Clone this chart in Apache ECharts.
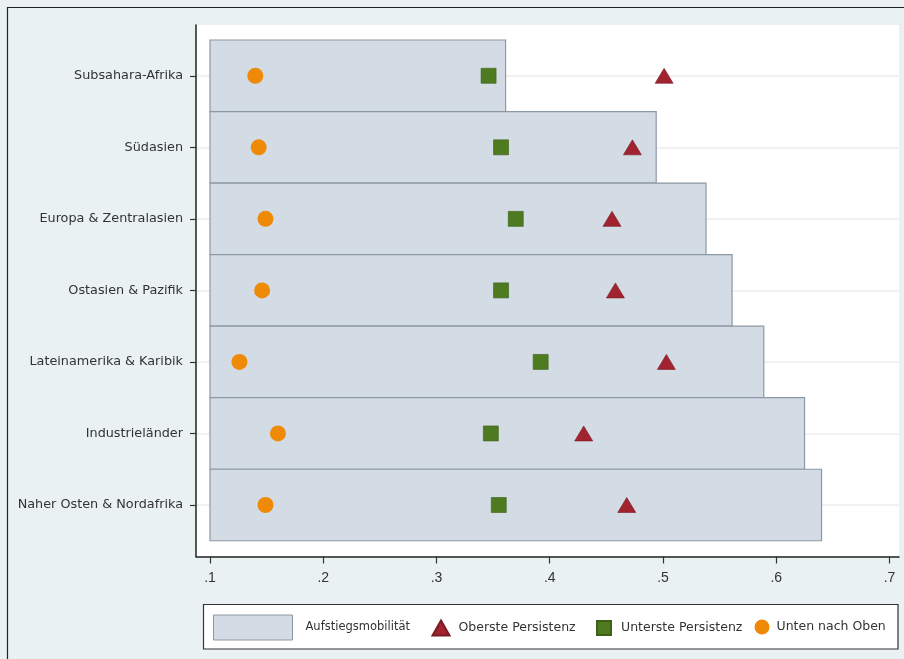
<!DOCTYPE html>
<html>
<head>
<meta charset="utf-8">
<script src="https://cdn.jsdelivr.net/npm/echarts@6/dist/echarts.min.js"></script>
<style>html,body{margin:0;padding:0;}#c{width:904px;height:659px;}</style>
</head>
<body>
<div id="c"></div>
<script>
const categories = ['Subsahara-Afrika','Südasien','Europa & Zentralasien','Ostasien & Pazifik','Lateinamerika & Karibik','Industrieländer','Naher Osten & Nordafrika'];
const aufstieg = [0.361, 0.494, 0.538, 0.561, 0.589, 0.625, 0.640];
const oberste = [0.501, 0.473, 0.455, 0.458, 0.503, 0.430, 0.468];
const unterste = [0.346, 0.357, 0.370, 0.357, 0.392, 0.348, 0.355];
const untenOben = [0.140, 0.143, 0.149, 0.146, 0.126, 0.160, 0.149];
const xTicks = [0.1, 0.2, 0.3, 0.4, 0.5, 0.6, 0.7];
const xTickLabels = ['.1', '.2', '.3', '.4', '.5', '.6', '.7'];
const baseValue = 0.1;

const FONT = 'DejaVu Sans';
const catIdx = categories.map((c, i) => i);
const pairs = arr => arr.map((v, i) => [v, i]);

const chart = echarts.init(document.getElementById('c'), null, {renderer: 'canvas'});
chart.setOption({
  backgroundColor: '#eaf1f3',
  animation: false,
  textStyle: {fontFamily: FONT},
  graphic: [
    {type: 'rect', shape: {x: 7.5, y: 7.5, width: 2000, height: 2000}, style: {fill: 'none', stroke: '#222', lineWidth: 1.2}, z: 0, silent: true},
    {type: 'rect', shape: {x: 203.5, y: 604.5, width: 694.5, height: 44.5}, style: {fill: '#ffffff', stroke: '#333', lineWidth: 1.2}, z: 0, silent: true}
  ],
  grid: {left: 196, top: 25, right: 5, bottom: 102.5, show: true, backgroundColor: '#ffffff', borderWidth: 0},
  xAxis: {
    type: 'value', min: 0.08764, max: 0.7084,
    axisLine: {show: true, onZero: false, lineStyle: {color: '#222', width: 1.5}},
    axisTick: {show: true, length: 7, customValues: xTicks, lineStyle: {color: '#333', width: 1.2}},
    axisLabel: {customValues: xTicks, margin: 15, fontSize: 14, color: '#333', fontFamily: 'Liberation Sans',
      formatter: v => xTickLabels[xTicks.findIndex(t => Math.abs(t - v) < 1e-6)]},
    splitLine: {show: false}
  },
  yAxis: {
    type: 'value', inverse: true, min: -0.71, max: 6.72,
    axisLine: {show: true, onZero: false, lineStyle: {color: '#222', width: 1.5}},
    axisTick: {show: true, length: 6, customValues: catIdx, lineStyle: {color: '#333', width: 1.2}},
    axisLabel: {customValues: catIdx, margin: 13, fontSize: 12.8, color: '#333', fontFamily: FONT,
      formatter: v => categories[Math.round(v)]},
    splitLine: {show: true, lineStyle: {color: '#ececec', width: 1.5}}
  },
  legend: [
    {left: 213, top: 614.5, padding: 0, itemWidth: 79, itemHeight: 25, itemGap: 0, selectedMode: false,
      textStyle: {fontSize: 11.5, color: '#333', fontFamily: FONT, padding: [0, 0, 0, 8]},
      data: [{name: 'Aufstiegsmobilität', icon: 'rect', itemStyle: {color: '#d3dbe4', borderColor: '#8d98a5', borderWidth: 1, opacity: 1}}]},
    {left: 431.5, top: 619.5, padding: 0, itemWidth: 17, itemHeight: 15, selectedMode: false,
      textStyle: {fontSize: 12.5, color: '#333', fontFamily: FONT, padding: [0, 0, 0, 4]},
      data: [{name: 'Oberste Persistenz', icon: 'triangle', itemStyle: {color: '#a1232f', opacity: 1}}]},
    {left: 596, top: 620, padding: 0, itemWidth: 14, itemHeight: 14, selectedMode: false,
      textStyle: {fontSize: 12.5, color: '#333', fontFamily: FONT, padding: [0, 0, 0, 5]},
      data: [{name: 'Unterste Persistenz', icon: 'rect', itemStyle: {color: '#4e7b20', opacity: 1}}]},
    {left: 754.5, top: 619.5, padding: 0, itemWidth: 15, itemHeight: 15, selectedMode: false,
      textStyle: {fontSize: 12.5, color: '#333', fontFamily: FONT, padding: [0, 0, 0, 2]},
      data: [{name: 'Unten nach Oben', icon: 'circle', itemStyle: {color: '#ef8a07', opacity: 1}}]}
  ],
  series: [
    {
      name: 'Aufstiegsmobilität', type: 'custom',
      itemStyle: {color: '#d3dbe4', borderColor: '#8d98a5'},
      encode: {x: 0, y: 1},
      data: pairs(aufstieg),
      renderItem: (params, api) => {
        const v = api.value(0), i = api.value(1);
        const p0 = api.coord([baseValue, i - 0.5]);
        const p1 = api.coord([v, i + 0.5]);
        return {type: 'rect', shape: {x: p0[0], y: Math.min(p0[1], p1[1]), width: p1[0] - p0[0], height: Math.abs(p1[1] - p0[1])},
          style: {fill: '#d3dbe4', stroke: '#8d98a5', lineWidth: 1.2}};
      },
      z: 2
    },
    {name: 'Oberste Persistenz', type: 'scatter', symbol: 'triangle', symbolSize: [18, 15],
      itemStyle: {color: '#a1232f', borderColor: '#7a1a24', borderWidth: 0.6, opacity: 1}, data: pairs(oberste), z: 5},
    {name: 'Unterste Persistenz', type: 'scatter', symbol: 'rect', symbolSize: 15,
      itemStyle: {color: '#4e7b20', borderColor: '#3c6016', borderWidth: 0.6, opacity: 1}, data: pairs(unterste), z: 5},
    {name: 'Unten nach Oben', type: 'scatter', symbol: 'circle', symbolSize: 16,
      itemStyle: {color: '#ef8a07', opacity: 1}, data: pairs(untenOben), z: 5}
  ]
});
</script>
</body>
</html>
